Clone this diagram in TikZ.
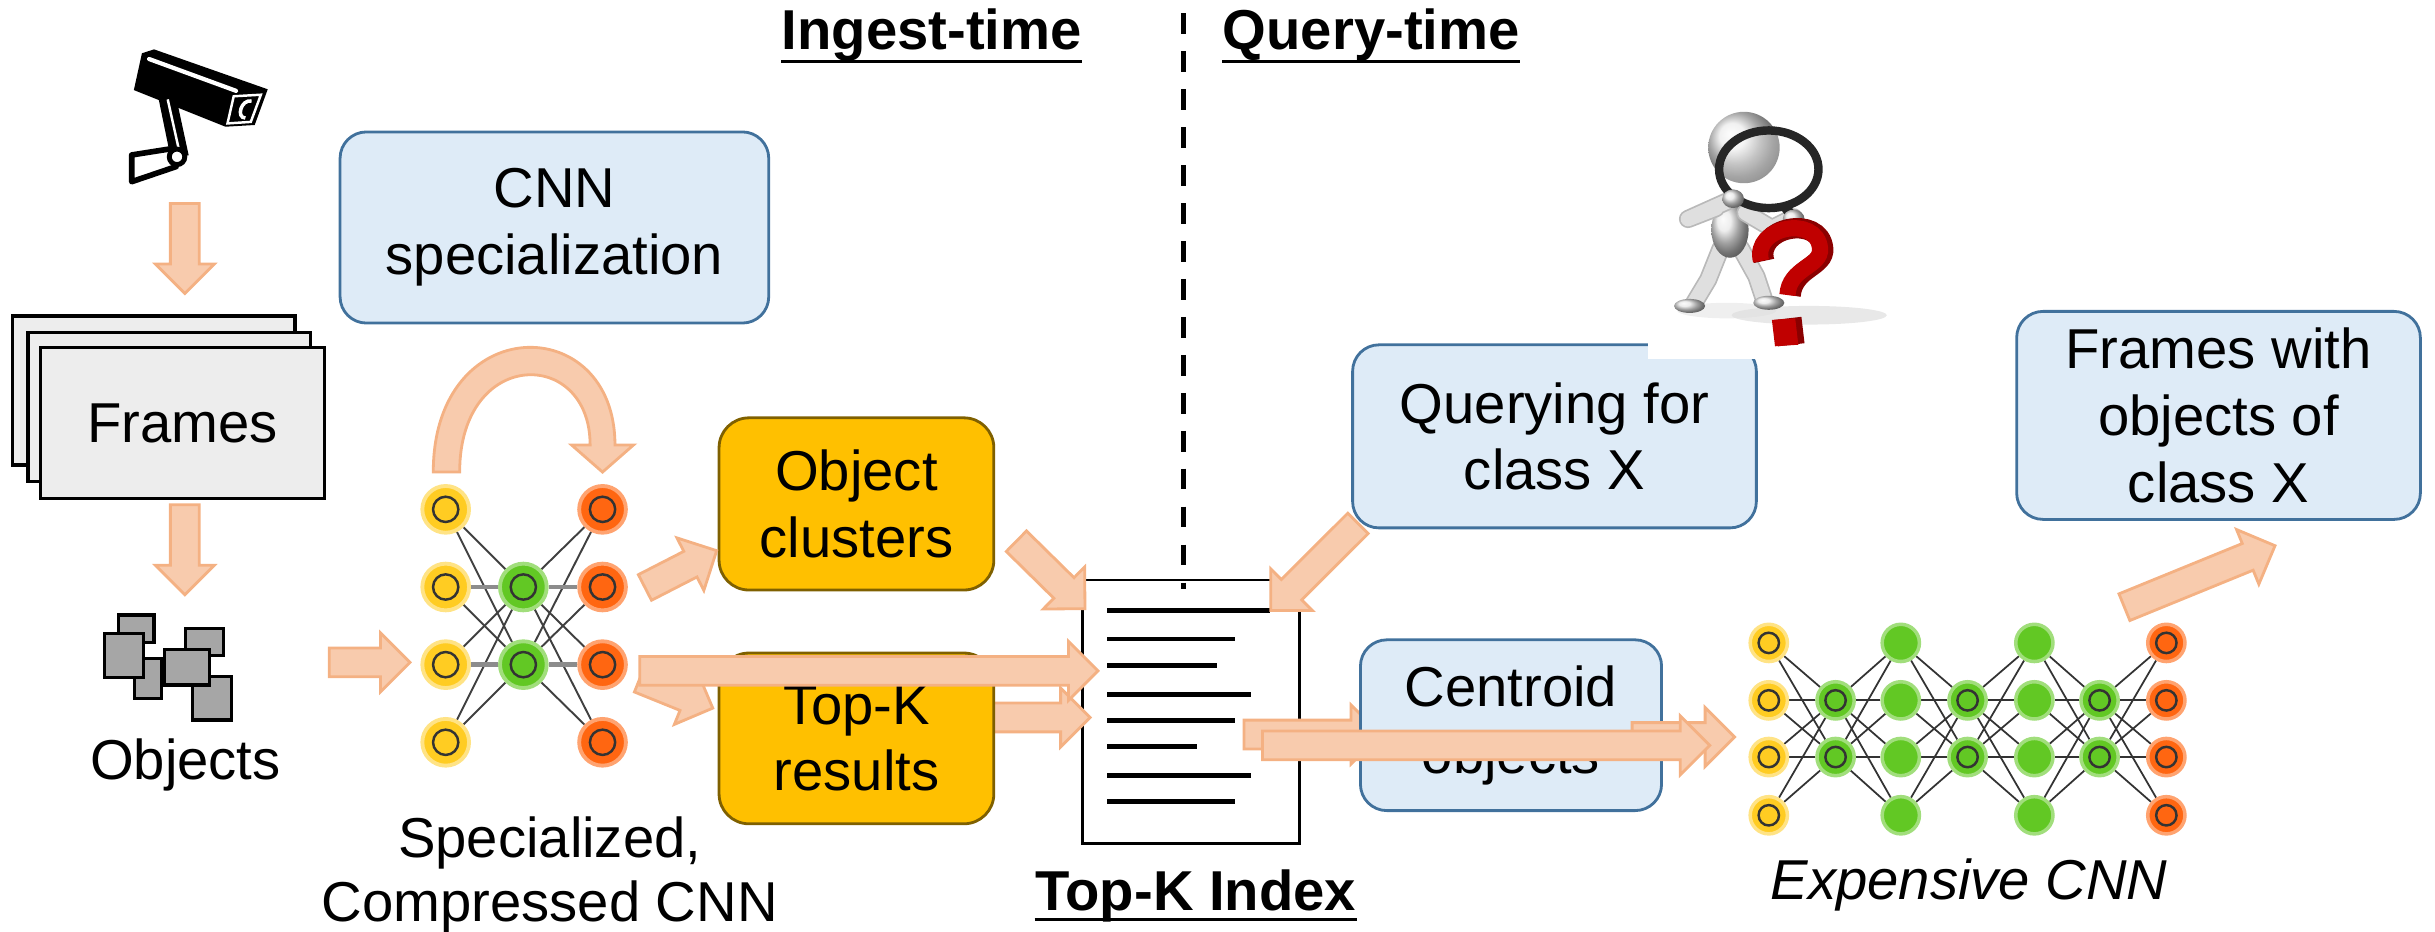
\documentclass[tikz,border=0pt]{standalone}
\usepackage{fontspec}
\setmainfont{Liberation Sans}
\usetikzlibrary{calc,backgrounds}

\definecolor{boxblue}{HTML}{DEEBF7}
\definecolor{edgeblue}{HTML}{41719C}
\definecolor{gold}{HTML}{FFC000}
\definecolor{golddark}{HTML}{7F6000}
\definecolor{peach}{HTML}{F8CBAD}
\definecolor{peachedge}{HTML}{F4B183}
\definecolor{frameg}{HTML}{EDEDED}
\definecolor{objg}{HTML}{A6A6A6}
\definecolor{nyellow}{HTML}{FFCC22}
\definecolor{ngreen}{HTML}{62C824}
\definecolor{norange}{HTML}{FF6611}
\definecolor{qred}{HTML}{C00000}
\definecolor{qdark}{HTML}{8A0000}

\tikzset{
  lbl/.style={font=\fontsize{16pt}{19pt}\selectfont, align=center, inner sep=0pt},
  title/.style={font=\fontsize{16pt}{19pt}\selectfont\bfseries, inner sep=0pt, anchor=base},
  bluebox/.style={lbl, draw=edgeblue, fill=boxblue, line width=0.8pt, rounded corners=7.5pt},
  goldbox/.style={lbl, draw=golddark, fill=gold, line width=0.8pt, rounded corners=8.5pt},
  framebox/.style={lbl, draw=black, fill=frameg, line width=0.9pt, minimum width=80.4pt, minimum height=42.4pt},
  peacharrow/.style={fill=peach, draw=peachedge, line width=0.8pt, line join=miter},
  objsq/.style={fill=objg, draw=black, line width=0.9pt},
  bignode/.style={circle, inner sep=0pt, minimum size=13.3pt, line width=1.1pt},
  smallnode/.style={circle, inner sep=0pt, minimum size=10.6pt, line width=1pt},
  yfill/.style={fill=nyellow, draw=nyellow!55!white},
  gfill/.style={fill=ngreen, draw=ngreen!60!white},
  ofill/.style={fill=norange, draw=norange!60!white},
  ringline/.style={draw=black!80, line width=0.7pt},
  nnedge/.style={black!75, line width=0.55pt},
  nnbar/.style={black!45, line width=1.3pt},
  limbline/.style={line cap=round, line join=round, draw=gray!25, line width=4.2pt},
  limbedge/.style={line cap=round, line join=round, draw=gray!55, line width=5.2pt},
}

% block arrow from one named point to another
\newcommand\blockarrow[2]{%
  \path let \p1=(#1), \p2=(#2) in \pgfextra{%
    \pgfmathsetmacro\tmpang{atan2(\y2-\y1,\x2-\x1)}%
    \pgfmathsetmacro\tmplen{veclen(\x2-\x1,\y2-\y1)}%
    \pgfmathsetmacro\tmpbase{\tmplen-8.4}%
    \xdef\BAang{\tmpang}\xdef\BAlen{\tmplen}\xdef\BAbase{\tmpbase}%
    \xdef\BAx{\x1}\xdef\BAy{\y1}};
  \filldraw[peacharrow, shift={(\BAx,\BAy)}, rotate=\BAang]
    (0pt,-4.1pt) -- (\BAbase pt,-4.1pt) -- (\BAbase pt,-8.4pt) -- (\BAlen pt,0pt)
    -- (\BAbase pt,8.4pt) -- (\BAbase pt,4.1pt) -- (0pt,4.1pt) -- cycle;
}

\begin{document}
\begin{tikzpicture}[x=0.01553cm, y=-0.01553cm]
\useasboundingbox (0,0) rectangle (1568,600);

% ---------- section titles and divider ----------
\node[title] (ingest) at (600,32) {Ingest-time};
\node[title] (qtime) at (883,32) {Query-time};
\draw[line width=0.9pt] ([yshift=-3.3pt]ingest.base west) -- ([yshift=-3.3pt]ingest.base east);
\draw[line width=0.9pt] ([yshift=-3.3pt]qtime.base west) -- ([yshift=-3.3pt]qtime.base east);

% ---------- Top-K index document ----------
\node[draw=black, fill=white, line width=0.8pt, inner sep=0pt, minimum width=61.9pt, minimum height=74.9pt] (doc) at (767,458.25) {};
\foreach \yy/\xe in {393/817.5, 411.5/795, 428.6/783.6, 447/805.6, 464/795, 480.8/770.7, 499.5/805.6, 516/795}
  \draw[line width=1.4pt] (713,\yy) -- (\xe,\yy);
\coordinate (dashtop) at (762,8.6);
\coordinate (dashbot) at (762,379);
\draw[line width=1.3pt, dash pattern=on 5.9pt off 4.9pt] (dashtop) -- (dashbot);
\node[title] (tkidx) at (770,586) {Top-K Index};
\draw[line width=0.9pt] ([yshift=-2.6pt]tkidx.base west) -- ([yshift=-2.6pt]tkidx.base east);

% ---------- camera ----------
\fill[black] (86.2,58) -- (91.4,34.3) -- (99.2,31.8) -- (172.4,57.5) -- (164,80.5) -- (145.2,81.6) -- cycle;
\draw[white, line width=1.2pt, line cap=round] (96,38) -- (152,58.5);
\draw[white, line width=0.7pt] (150.5,62) -- (168,61) -- (161.5,78.5) -- (146.5,79.5) -- cycle;
\draw[white, line width=1pt] (162,65) .. controls (155,64) and (152,76) .. (158,76);
\fill[black] (102,63) -- (113.5,63) -- (121.5,100) -- (110,102) -- cycle;
\draw[white, line width=0.7pt] (108,64) -- (116,100);
\filldraw[fill=white, draw=black, line width=1.6pt, line join=round] (84.8,99.8) -- (112,95.5) -- (113.4,107.3) -- (84.8,117) -- cycle;
\filldraw[fill=white, draw=black, line width=1.4pt] (114,101) circle (5);
\coordinate (camout) at (119,131);
\coordinate (frin) at (119,189);

% ---------- frame stack ----------
\node[framebox] (frback) at (99,251.5) {};
\node[framebox] (frmid) at (109,262) {};
\node[framebox, minimum width=80.9pt, minimum height=42.9pt] (frames) at (117.5,272.5) {Frames};
\coordinate (frout) at (119,325);
\coordinate (objin) at (119,383);

% ---------- object crops ----------
\filldraw[objsq] (76.2,396) rectangle (99.2,413.8);
\filldraw[objsq] (86.8,423.9) rectangle (104,449.7);
\filldraw[objsq] (67.5,407.8) rectangle (92.5,436.1);
\filldraw[objsq] (119.3,404.6) rectangle (143.7,422.2);
\filldraw[objsq] (124.2,435.7) rectangle (148.9,463.6);
\filldraw[objsq] (105.8,418.5) rectangle (135.1,441.1);
\node[lbl, anchor=base] (objlbl) at (119.4,502) {Objects};
\coordinate (objout) at (212,426.5);
\coordinate (cnnin) at (264,426.5);

% ---------- specialized compressed CNN ----------
\foreach \i/\yy in {1/328,2/378,3/428,4/478}{
  \node[bignode, yfill] (sy\i) at (287,\yy) {};
  \node[bignode, ofill] (so\i) at (388,\yy) {};
}
\node[bignode, gfill] (sg1) at (337,378) {};
\node[bignode, gfill] (sg2) at (337,428) {};
\foreach \n in {sy1,sy2,sy3,sy4,so1,so2,so3,so4,sg1,sg2}
  \draw[ringline] (\n.center) circle (3.6pt);
\begin{scope}[on background layer]
  \foreach \i in {1,...,4}{
    \foreach \j in {1,2}{
      \draw[nnedge] (sy\i) -- (sg\j);
      \draw[nnedge] (sg\j) -- (so\i);
    }
  }
  \draw[nnbar] (sy2) -- (sg1) -- (so2);
  \draw[nnbar] (sy3) -- (sg2) -- (so3);
\end{scope}
\node[lbl, anchor=base] (speclbl1) at (354,552) {Specialized,};
\node[lbl, anchor=base] (speclbl2) at (354,593.6) {Compressed CNN};

% ---------- expensive CNN ----------
\foreach \r/\yy in {1/414,2/451,3/487.5,4/525}{
  \node[smallnode, yfill] (e0\r) at (1139,\yy) {};
  \node[smallnode, gfill] (e2\r) at (1224,\yy) {};
  \node[smallnode, gfill] (e4\r) at (1310,\yy) {};
  \node[smallnode, ofill] (e6\r) at (1395,\yy) {};
  \draw[ringline] (e0\r.center) circle (2.9pt);
  \draw[ringline] (e6\r.center) circle (2.9pt);
}
\foreach \c/\xx in {1/1182,3/1267,5/1352}{
  \node[smallnode, gfill] (e\c2) at (\xx,451) {};
  \node[smallnode, gfill] (e\c3) at (\xx,487.5) {};
  \draw[ringline] (e\c2.center) circle (2.9pt);
  \draw[ringline] (e\c3.center) circle (2.9pt);
}
\begin{scope}[on background layer]
  \foreach \c/\d in {0/1,2/1,2/3,4/3,4/5,6/5}{
    \foreach \r in {1,...,4}{
      \foreach \s in {2,3}{
        \draw[black!80, line width=0.5pt] (e\c\r) -- (e\d\s);
      }
    }
  }
\end{scope}
\node[lbl, anchor=base, font=\fontsize{16pt}{19pt}\selectfont\itshape] (explbl) at (1268,579.5) {Expensive CNN};

% ---------- connectors passing under boxes ----------
\coordinate (tkout) at (630,462);
\coordinate (tkdoc) at (702,462);
\blockarrow{tkout}{tkdoc}
\coordinate (docc) at (801,473);
\coordinate (centin) at (889,473);
\blockarrow{docc}{centin}

% ---------- text boxes ----------
\node[bluebox, minimum width=122pt, minimum height=54.4pt] (spec) at (357,146.5) {CNN\\specialization};
\node[goldbox, minimum width=78.2pt, minimum height=49pt] (clus) at (551.5,324.5) {Object\\clusters};
\node[goldbox, minimum width=78.2pt, minimum height=48.6pt] (topk) at (551.5,475.5) {Top-K\\results};
\node[bluebox, minimum width=114.9pt, minimum height=52.1pt] (query) at (1001,281) {Querying for\\class X};
\node[bluebox, minimum width=85.7pt, minimum height=48.6pt] (cent) at (973,467) {Centroid\\objects};
\node[bluebox, minimum width=114.9pt, minimum height=59.2pt] (fwith) at (1428.6,267.5) {Frames with\\objects of\\class X};

% ---------- searching figure ----------
\fill[white] (1061,218) rectangle (1136,231.5);
\fill[gray!35, opacity=0.5] (1165,203) ellipse (50 and 6);
\fill[gray!25, opacity=0.5] (1112,200) ellipse (32 and 5);
\draw[limbedge] (1108,160) -- (1100,180) -- (1091,195);
\draw[limbline] (1108,160) -- (1100,180) -- (1091,195);
\draw[limbedge] (1121,160) -- (1131,178) -- (1136,193);
\draw[limbline] (1121,160) -- (1131,178) -- (1136,193);
\shade[ball color=gray!20] (1088,197) ellipse (10 and 4.5);
\shade[ball color=gray!20] (1139,195) ellipse (10 and 4.5);
\shade[ball color=gray!18] (1114,148) ellipse (12 and 18);
\draw[limbedge] (1105,134) -- (1087,141) -- (1116,128);
\draw[limbline] (1105,134) -- (1087,141) -- (1116,128);
\draw[limbedge] (1124,137) -- (1141,147) -- (1155,140);
\draw[limbline] (1124,137) -- (1141,147) -- (1155,140);
\shade[ball color=gray!15] (1123,95) circle (23);
\fill[white, opacity=0.35] (1139,109) ellipse (32 and 25);
\draw[black!85, line width=2.4pt] (1139,109) ellipse (32 and 25);
\draw[black!85, line width=2.8pt, line cap=round] (1150,134) -- (1157,143);
\shade[ball color=gray!20] (1116,128) ellipse (7 and 6);
\shade[ball color=gray!20] (1155,141) ellipse (7 and 6);
\draw[qdark, line width=5.8pt] (1136,168) .. controls (1130,146) and (1172,138) .. (1174,160) .. controls (1175,172) and (1155,172) .. (1153,190);
\draw[qred, line width=4.6pt] (1134,168) .. controls (1128,146) and (1170,138) .. (1172,160) .. controls (1173,172) and (1152,172) .. (1151,190);
\fill[qdark] (1143,206) -- (1160,204) -- (1162,221) -- (1145,223) -- cycle;
\fill[qred] (1141,206) -- (1156,205) -- (1158,222) -- (1143,223) -- cycle;

% ---------- flow arrows ----------
\blockarrow{camout}{frin}
\blockarrow{frout}{objin}
\blockarrow{objout}{cnnin}

% specialization loop over the small CNN
\coordinate (loopa) at (287.5,304);
\coordinate (loopb) at (388,304);
\filldraw[peacharrow] (279,304) .. controls (279,200) and (396,200) .. (396,286.5)
  -- (408,286.5) -- (loopb) -- (368,286.5) -- (380,286.5)
  .. controls (380,223.6) and (296,223.6) .. (296,304) -- cycle;

\coordinate (cnnclus) at (415.3,378.3);
\coordinate (clusin) at (461.5,354.6);
\blockarrow{cnnclus}{clusin}
\coordinate (cnntk) at (412,437);
\coordinate (tkin) at (459,456);
\blockarrow{cnntk}{tkin}
\coordinate (cnndoc) at (412,432);
\coordinate (docin) at (707,432);
\blockarrow{cnndoc}{docin}
\coordinate (clusout) at (654.5,348.5);
\coordinate (docnw) at (698.7,392);
\blockarrow{clusout}{docnw}
\coordinate (qout) at (874.5,337);
\coordinate (docne) at (818.2,393.2);
\blockarrow{qout}{docne}
\coordinate (centout) at (1051,474.6);
\coordinate (expin) at (1117,474.6);
\blockarrow{centout}{expin}
\coordinate (docd) at (813,480);
\coordinate (expin2) at (1101,480);
\blockarrow{docd}{expin2}
\coordinate (expout) at (1368,391);
\coordinate (fwin) at (1465,351.4);
\blockarrow{expout}{fwin}
\end{tikzpicture}
\end{document}
